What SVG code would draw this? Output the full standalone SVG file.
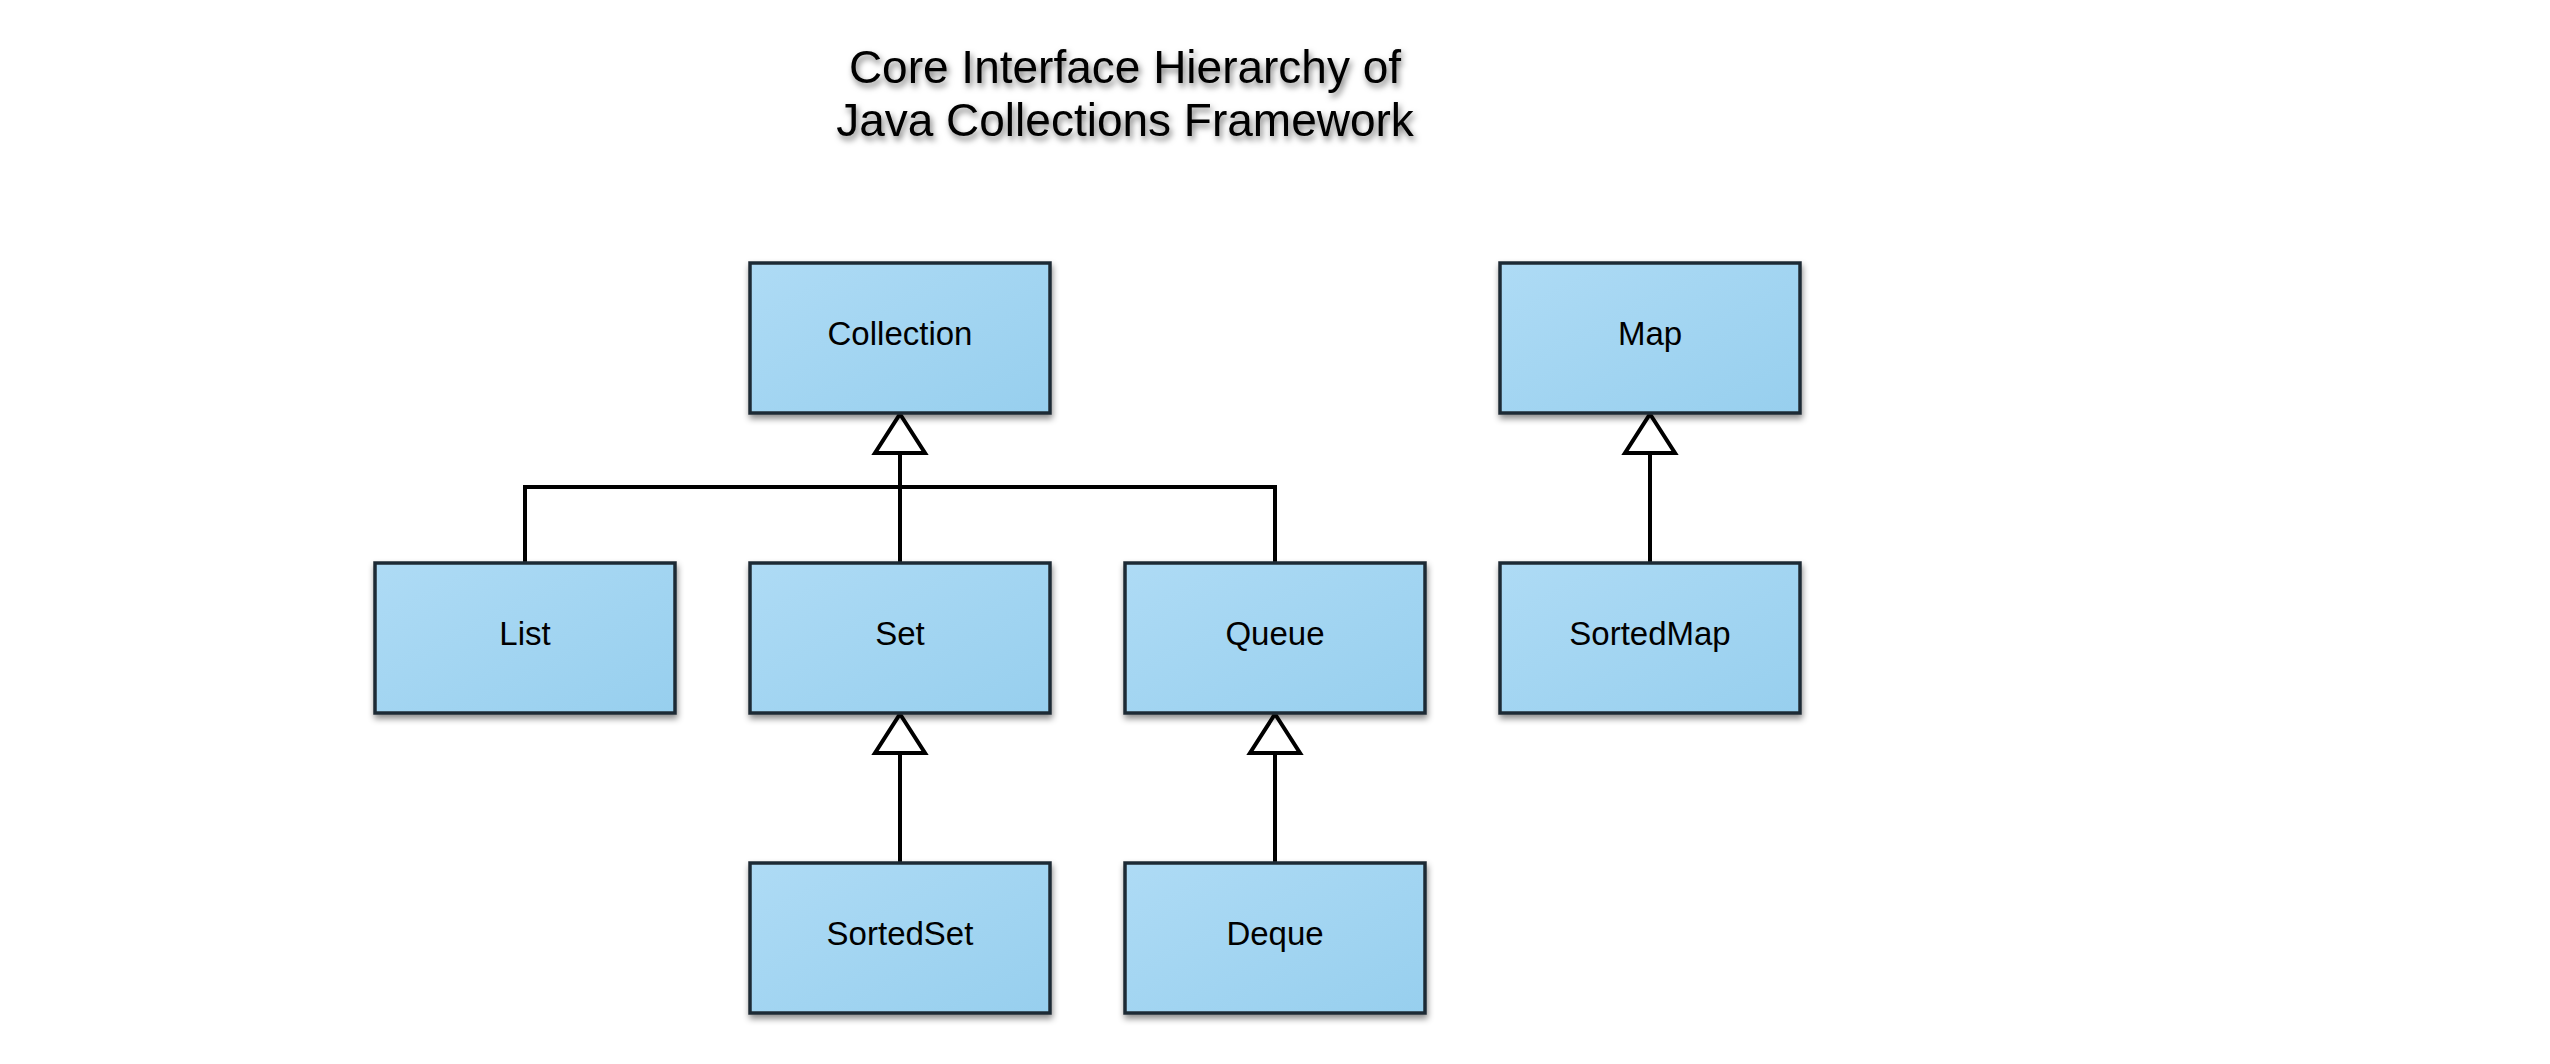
<svg xmlns="http://www.w3.org/2000/svg" width="2550" height="1064" viewBox="0 0 2550 1064">
  <defs>
    <linearGradient id="boxFill" x1="0" y1="0" x2="1" y2="1">
      <stop offset="0" stop-color="#aedbf5"/>
      <stop offset="1" stop-color="#97cfee"/>
    </linearGradient>
    <filter id="boxShadow" x="-10%" y="-10%" width="120%" height="130%">
      <feDropShadow dx="1" dy="4" stdDeviation="3" flood-color="#000" flood-opacity="0.45"/>
    </filter>
    <filter id="textShadow" x="-10%" y="-30%" width="120%" height="160%">
      <feDropShadow dx="2" dy="4" stdDeviation="3" flood-color="#000" flood-opacity="0.55"/>
    </filter>
  </defs>
  <style>
    .box { fill: url(#boxFill); stroke: #1f2b34; stroke-width: 3.5; filter: url(#boxShadow); }
    .label { font-family: "Liberation Sans", Arial, sans-serif; font-size: 33px; fill: #000; text-anchor: middle; }
    .title { font-family: "Liberation Sans", Arial, sans-serif; font-size: 46px; fill: #000; text-anchor: middle; filter: url(#textShadow); }
    .edge { fill: none; stroke: #000; stroke-width: 4; stroke-linejoin: miter; stroke-linecap: butt; }
    .head { fill: #fff; stroke: #000; stroke-width: 4; stroke-linejoin: miter; }
  </style>
  <rect width="2550" height="1064" fill="#fff"/>

  <g id="title">
    <text class="title" x="1125" y="83">Core Interface Hierarchy of</text>
    <text class="title" x="1125" y="136">Java Collections Framework</text>
  </g>

  <g id="connectors">
    <polyline class="edge" points="525,563 525,487 1275,487 1275,563"/>
    <line class="edge" x1="900" y1="563" x2="900" y2="453"/>
    <polygon class="head" points="900,414 925,453 875,453"/>
    <line class="edge" x1="900" y1="863" x2="900" y2="753"/>
    <polygon class="head" points="900,714 925,753 875,753"/>
    <line class="edge" x1="1275" y1="863" x2="1275" y2="753"/>
    <polygon class="head" points="1275,714 1300,753 1250,753"/>
    <line class="edge" x1="1650" y1="563" x2="1650" y2="453"/>
    <polygon class="head" points="1650,414 1675,453 1625,453"/>
  </g>

  <g id="node-collection">
    <rect class="box" x="750" y="263" width="300" height="150"/>
    <text class="label" x="900" y="345">Collection</text>
  </g>
  <g id="node-map">
    <rect class="box" x="1500" y="263" width="300" height="150"/>
    <text class="label" x="1650" y="345">Map</text>
  </g>
  <g id="node-list">
    <rect class="box" x="375" y="563" width="300" height="150"/>
    <text class="label" x="525" y="645">List</text>
  </g>
  <g id="node-set">
    <rect class="box" x="750" y="563" width="300" height="150"/>
    <text class="label" x="900" y="645">Set</text>
  </g>
  <g id="node-queue">
    <rect class="box" x="1125" y="563" width="300" height="150"/>
    <text class="label" x="1275" y="645">Queue</text>
  </g>
  <g id="node-sortedmap">
    <rect class="box" x="1500" y="563" width="300" height="150"/>
    <text class="label" x="1650" y="645">SortedMap</text>
  </g>
  <g id="node-sortedset">
    <rect class="box" x="750" y="863" width="300" height="150"/>
    <text class="label" x="900" y="945">SortedSet</text>
  </g>
  <g id="node-deque">
    <rect class="box" x="1125" y="863" width="300" height="150"/>
    <text class="label" x="1275" y="945">Deque</text>
  </g>
</svg>
